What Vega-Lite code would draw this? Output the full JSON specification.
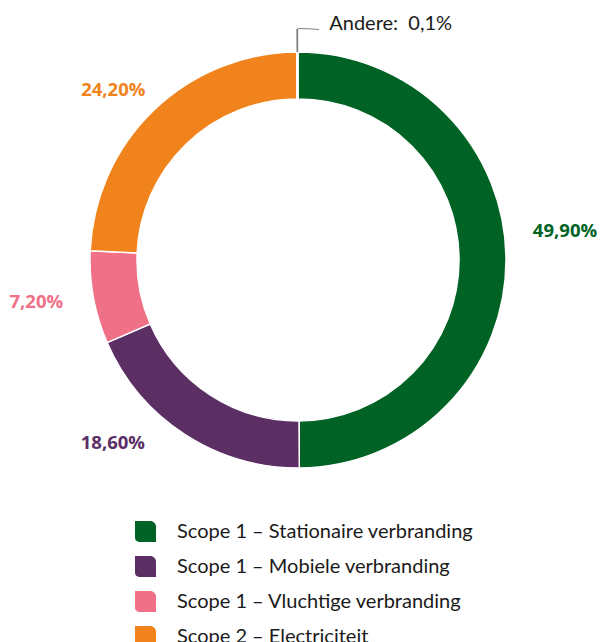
{
  "$schema": "https://vega.github.io/schema/vega-lite/v6.json",
  "width": 596,
  "height": 520,
  "autosize": "none",
  "padding": {"left": 0, "top": 0, "right": 5, "bottom": 122},
  "background": "white",
  "config": {"view": {"stroke": null}},
  "data": {
    "values": [
      {"idx": 1, "cat": "Scope 1 – Stationaire verbranding", "value": 49.9, "label": "49,90%"},
      {"idx": 2, "cat": "Scope 1 – Mobiele verbranding", "value": 18.6, "label": "18,60%"},
      {"idx": 3, "cat": "Scope 1 – Vluchtige verbranding", "value": 7.2, "label": "7,20%"},
      {"idx": 4, "cat": "Scope 2 – Electriciteit", "value": 24.2, "label": "24,20%"},
      {"idx": 5, "cat": "Andere", "value": 0.1, "label": "Andere: \u00a00,1%"}
    ]
  },
  "layer": [
    {
      "encoding": {
        "theta": {"field": "value", "type": "quantitative", "stack": true},
        "order": {"field": "idx", "type": "quantitative"},
        "color": {
          "field": "cat",
          "type": "nominal",
          "scale": {
            "domain": ["Scope 1 – Stationaire verbranding", "Scope 1 – Mobiele verbranding", "Scope 1 – Vluchtige verbranding", "Scope 2 – Electriciteit", "Andere"],
            "range": ["#006325", "#5b2e64", "#ef7087", "#f1831c", "#808080"]
          },
          "legend": {
            "orient": "none",
            "legendX": 135,
            "legendY": 521,
            "direction": "vertical",
            "title": null,
            "values": ["Scope 1 – Stationaire verbranding", "Scope 1 – Mobiele verbranding", "Scope 1 – Vluchtige verbranding", "Scope 2 – Electriciteit"],
            "symbolType": "M-1,-1H0.45A0.55,0.55 0 0 1 1,-0.45V1H-0.6A0.4,0.4 0 0 1 -1,0.6Z",
            "symbolSize": 441,
            "symbolStrokeWidth": 0,
            "symbolOpacity": 1,
            "labelFont": "Lato",
            "labelFontSize": 20,
            "labelColor": "#1a1a1a",
            "labelOffset": 21,
            "rowPadding": 14,
            "labelLimit": 450,
            "padding": 0
          }
        }
      },
      "layer": [
        {"mark": {"type": "arc", "innerRadius": 161, "outerRadius": 208, "stroke": "white", "strokeWidth": 1.5}},
        {
          "mark": {"type": "arc", "radius": 231, "radius2": 208, "stroke": "#808080", "strokeWidth": 0.4},
          "encoding": {
            "color": {"value": "#808080"},
            "detail": {"field": "cat"},
            "opacity": {"condition": {"test": "datum.idx === 5", "value": 1}, "value": 0}
          }
        },
        {
          "mark": {"type": "text", "radius": 262, "font": "Open Sans", "fontWeight": "bold", "fontSize": 18.5, "dx": 5, "dy": -28},
          "encoding": {"text": {"condition": {"test": "datum.idx === 1", "field": "label"}, "value": ""}}
        },
        {
          "mark": {"type": "text", "radius": 262, "font": "Open Sans", "fontWeight": "bold", "fontSize": 18.5, "dx": -42, "dy": -36},
          "encoding": {"text": {"condition": {"test": "datum.idx === 2", "field": "label"}, "value": ""}}
        },
        {
          "mark": {"type": "text", "radius": 262, "font": "Open Sans", "fontWeight": "bold", "fontSize": 18.5, "dx": -4, "dy": -5},
          "encoding": {"text": {"condition": {"test": "datum.idx === 3", "field": "label"}, "value": ""}}
        },
        {
          "mark": {"type": "text", "radius": 262, "font": "Open Sans", "fontWeight": "bold", "fontSize": 18.5, "dx": -3, "dy": 19},
          "encoding": {"text": {"condition": {"test": "datum.idx === 4", "field": "label"}, "value": ""}}
        },
        {
          "mark": {"type": "text", "radius": 236, "align": "left", "font": "Lato", "fontSize": 20, "dx": 32, "dy": 0},
          "encoding": {
            "color": {"value": "#1a1a1a"},
            "detail": {"field": "cat"},
            "text": {"condition": {"test": "datum.idx === 5", "field": "label"}, "value": ""}
          }
        }
      ]
    },
    {
      "transform": [{"filter": "datum.idx === 5"}],
      "mark": {"type": "arc", "theta": 0, "theta2": 0.091, "radius": 232, "radius2": 231, "fill": "#808080"},
      "encoding": {}
    }
  ]
}
